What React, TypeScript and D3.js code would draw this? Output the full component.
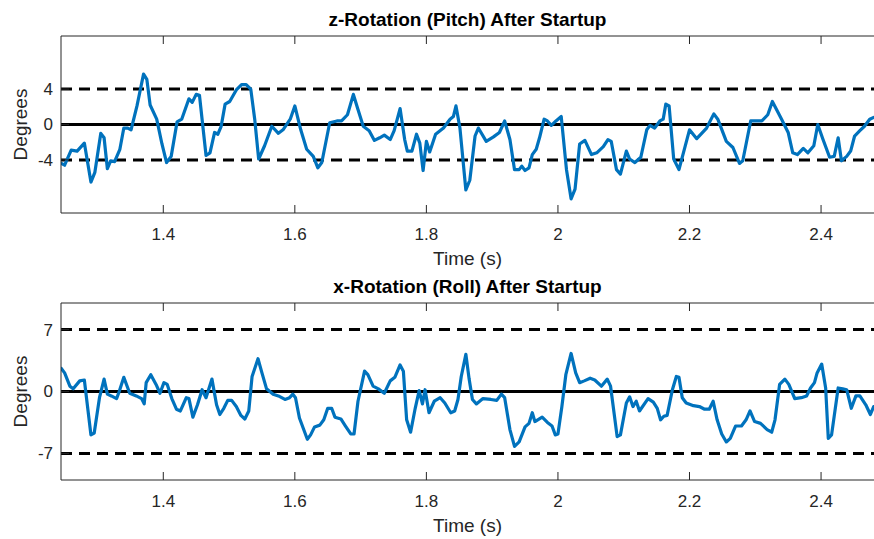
import React from "react";
import * as d3 from "d3";

// Pitch (z-rotation) samples after startup, in seconds and degrees
const pitchTime = [
  1.245, 1.25, 1.26, 1.269, 1.28, 1.29, 1.296, 1.305, 1.31, 1.315, 1.32, 1.326, 1.334, 1.34, 1.346, 1.351,
  1.36, 1.37, 1.375, 1.38, 1.39, 1.398, 1.405, 1.412, 1.421, 1.428, 1.439, 1.444, 1.45, 1.455, 1.465, 1.471,
  1.478, 1.483, 1.488, 1.494, 1.501, 1.511, 1.519, 1.526, 1.533, 1.539, 1.545, 1.554, 1.565, 1.575, 1.582,
  1.593, 1.6, 1.609, 1.618, 1.628, 1.635, 1.641, 1.653, 1.664, 1.671, 1.68, 1.689, 1.696, 1.704, 1.713,
  1.721, 1.729, 1.736, 1.745, 1.751, 1.76, 1.767, 1.771, 1.778, 1.785, 1.79, 1.795, 1.8, 1.805, 1.814,
  1.826, 1.836, 1.841, 1.845, 1.851, 1.86, 1.866, 1.874, 1.879, 1.891, 1.902, 1.911, 1.919, 1.927, 1.934,
  1.941, 1.945, 1.95, 1.956, 1.961, 1.967, 1.972, 1.979, 1.984, 1.99, 1.997, 2.005, 2.013, 2.02, 2.026,
  2.033, 2.041, 2.051, 2.059, 2.069, 2.076, 2.081, 2.089, 2.095, 2.104, 2.109, 2.117, 2.126, 2.135, 2.14,
  2.147, 2.155, 2.16, 2.164, 2.169, 2.176, 2.184, 2.2, 2.211, 2.226, 2.237, 2.243, 2.256, 2.266, 2.276,
  2.281, 2.293, 2.31, 2.319, 2.326, 2.34, 2.35, 2.357, 2.364, 2.373, 2.38, 2.389, 2.395, 2.403, 2.413,
  2.42, 2.426, 2.431, 2.439, 2.445, 2.451, 2.459, 2.466, 2.474, 2.48,
];
const pitchDeg = [
  -4.4, -4.6, -2.9, -3.0, -2.1, -6.5, -5.4, -1.0, -1.5, -5.0, -4.1, -4.2, -2.8, -0.4, -0.4, -0.6,
  2.1, 5.7, 5.1, 2.2, 0.6, -2.2, -4.3, -3.6, 0.3, 0.6, 2.9, 2.5, 3.4, 3.3, -3.5, -3.2,
  -0.9, -1.1, -0.2, 2.3, 2.6, 3.9, 4.5, 4.5, 4.0, 0.6, -3.9, -2.4, -0.2, -1.0, -0.6,
  0.6, 2.1, -0.6, -2.8, -3.6, -4.9, -4.3, 0.2, 0.4, 0.4, 1.1, 3.4, 1.7, -0.2, -0.7,
  -1.8, -1.5, -1.2, -1.7, -0.7, 1.8, -1.7, -3.0, -3.0, -1.1, -2.1, -5.2, -1.9, -3.1, -1.1,
  -0.4, 0.6, 0.9, 2.1, -0.4, -7.4, -6.3, -1.3, -0.4, -1.9, -1.4, -0.9, 0.4, -1.7, -5.1,
  -5.1, -4.7, -5.2, -4.9, -3.4, -2.8, -1.5, 0.6, 0.4, -0.1, 0.4, 0.9, -5.1, -8.4, -7.3,
  -2.2, -1.8, -3.4, -3.2, -2.5, -1.7, -1.9, -5.1, -5.6, -3.0, -3.9, -4.3, -3.7, -0.6, -0.1,
  -0.4, 0.4, 0.6, 2.3, 2.1, -3.9, -5.1, -0.6, -1.6, -0.4, 1.2, 0.6, -1.9, -2.6, -4.4,
  -4.1, 0.4, 0.4, 1.1, 2.6, 0.6, -0.9, -3.2, -3.4, -2.7, -3.2, -2.4, 0.0, -1.7, -3.7,
  -3.6, -1.5, -4.1, -3.6, -3.0, -1.3, -0.7, -0.2, 0.6, 0.8,
];

// Roll (x-rotation) samples after startup, in seconds and degrees
const rollTime = [
  1.245, 1.25, 1.258, 1.263, 1.273, 1.28, 1.29, 1.295, 1.303, 1.31, 1.315, 1.321, 1.329, 1.333, 1.34, 1.349,
  1.359, 1.367, 1.371, 1.374, 1.381, 1.389, 1.395, 1.401, 1.406, 1.413, 1.42, 1.426, 1.435, 1.439, 1.445,
  1.452, 1.459, 1.465, 1.474, 1.481, 1.486, 1.492, 1.498, 1.504, 1.511, 1.518, 1.524, 1.53, 1.535, 1.544,
  1.55, 1.557, 1.567, 1.575, 1.585, 1.592, 1.597, 1.601, 1.607, 1.619, 1.624, 1.63, 1.638, 1.644, 1.65,
  1.656, 1.661, 1.67, 1.677, 1.685, 1.69, 1.696, 1.706, 1.711, 1.719, 1.727, 1.736, 1.745, 1.752, 1.76,
  1.765, 1.77, 1.776, 1.783, 1.789, 1.794, 1.798, 1.804, 1.812, 1.821, 1.828, 1.837, 1.843, 1.848, 1.853,
  1.86, 1.865, 1.87, 1.876, 1.886, 1.898, 1.907, 1.914, 1.919, 1.927, 1.934, 1.941, 1.95, 1.956, 1.961,
  1.965, 1.976, 1.984, 1.991, 1.996, 2.0, 2.006, 2.012, 2.02, 2.027, 2.033, 2.04, 2.049, 2.056, 2.066,
  2.075, 2.08, 2.09, 2.095, 2.104, 2.109, 2.114, 2.119, 2.124, 2.137, 2.145, 2.151, 2.156, 2.161, 2.166,
  2.174, 2.18, 2.184, 2.189, 2.195, 2.206, 2.215, 2.223, 2.23, 2.236, 2.242, 2.249, 2.256, 2.262, 2.27,
  2.279, 2.286, 2.292, 2.299, 2.308, 2.318, 2.325, 2.33, 2.337, 2.345, 2.351, 2.36, 2.37, 2.378, 2.384,
  2.39, 2.394, 2.401, 2.407, 2.411, 2.416, 2.426, 2.433, 2.439, 2.446, 2.453, 2.459, 2.468, 2.475, 2.48,
];
const rollDeg = [
  2.6, 2.1, 0.6, 0.3, 1.2, 1.3, -4.9, -4.7, -0.7, 1.4, -0.3, -0.5, -0.8, 0.0, 1.6, -0.2,
  -0.5, -0.8, -1.4, 1.0, 1.9, 0.8, -0.2, 1.0, 0.8, -0.8, -2.0, -2.2, -0.7, -0.8, -2.9,
  -1.5, 0.2, -0.7, 1.4, -1.5, -2.6, -1.9, -1.0, -1.0, -1.7, -2.7, -3.1, -2.2, 1.7, 3.7,
  2.1, 0.3, -0.3, -0.5, -0.9, -0.7, -0.3, -0.7, -3.0, -5.4, -4.9, -4.0, -3.8, -3.2, -1.9,
  -1.9, -2.9, -3.1, -3.9, -4.8, -4.8, -1.1, 2.3, 1.9, 0.6, 0.3, -0.2, 1.2, 1.6, 3.0,
  2.3, -3.2, -4.6, -1.9, 0.1, -1.4, 0.2, -2.4, -1.1, -0.7, -1.3, -2.4, -2.2, -0.9, 1.7,
  4.2, 1.4, -0.9, -1.4, -0.8, -0.9, -1.0, -0.3, -0.7, -4.3, -6.2, -5.7, -4.0, -3.6, -2.4,
  -3.4, -2.9, -3.5, -3.9, -4.9, -4.8, -1.7, 1.9, 4.3, 2.1, 1.0, 1.2, 1.5, 1.3, 0.6,
  1.4, 0.6, -5.1, -4.9, -1.3, -0.6, -1.7, -1.1, -2.2, -0.8, -1.2, -1.9, -3.2, -2.8, -2.7,
  0.2, 1.7, 1.6, -0.7, -1.3, -1.6, -1.7, -2.0, -2.0, -1.1, -3.2, -4.8, -5.7, -5.3, -3.9,
  -3.9, -3.2, -2.2, -3.4, -3.6, -4.3, -4.6, -3.2, 0.8, 1.4, 0.8, -0.8, -0.7, -0.5, 0.4,
  1.0, 2.1, 3.1, 0.4, -5.3, -4.9, 0.4, 0.3, 0.2, -1.9, -0.5, -0.5, -1.5, -2.6, -1.7,
];

const timeTicks = [1.4, 1.6, 1.8, 2.0, 2.2, 2.4];
const timeRange = [1.2445, 2.4805];
const degRange = [-10, 10];
const pitchTicks = [-4, 0, 4];
const rollTicks = [-7, 0, 7];
const pitchLimit = 4;
const rollLimit = 7;

const W = 874;
const H = 539;
const FONT = "'Liberation Sans', Arial, Helvetica, sans-serif";
const AXIS = "#262626";
const BLUE = "#0072BD";

type PanelProps = {
  id: string;
  top: number;
  bottom: number;
  title: string;
  times: number[];
  values: number[];
  yTicks: number[];
  limit: number;
};

const left = 61;
const right = 874;

function Panel({ id, top, bottom, title, times, values, yTicks, limit }: PanelProps) {
  const x = d3.scaleLinear().domain(timeRange).range([left, right]);
  const y = d3.scaleLinear().domain(degRange).range([bottom, top]);
  const pts = times.map((t, i) => [t, values[i]] as [number, number]);
  const line = d3
    .line<[number, number]>()
    .x((d) => x(d[0]))
    .y((d) => y(d[1]));
  const clipId = `clip-${id}`;
  const tickLen = 8;
  const midY = (top + bottom) / 2;

  return (
    <g>
      <defs>
        <clipPath id={clipId}>
          <rect x={left} y={top} width={right - left} height={bottom - top} />
        </clipPath>
      </defs>
      <rect x={left} y={top} width={right - left} height={bottom - top} fill="#ffffff" />

      {/* reference lines: zero and ± limit */}
      <g clipPath={`url(#${clipId})`}>
        <line x1={left} x2={right} y1={y(0)} y2={y(0)} stroke="#000" strokeWidth={3} />
        {[limit, -limit].map((v) => (
          <line
            key={v}
            x1={left}
            x2={right}
            y1={y(v)}
            y2={y(v)}
            stroke="#000"
            strokeWidth={3}
            strokeDasharray="11 7"
          />
        ))}
        <path
          d={line(pts) || ""}
          fill="none"
          stroke={BLUE}
          strokeWidth={3.2}
          strokeLinejoin="round"
          strokeLinecap="round"
        />
      </g>

      {/* axes box */}
      <line x1={left} x2={right} y1={top} y2={top} stroke={AXIS} strokeWidth={1} />
      <line x1={left} x2={right} y1={bottom} y2={bottom} stroke={AXIS} strokeWidth={1} />
      <line x1={left} x2={left} y1={top} y2={bottom} stroke={AXIS} strokeWidth={1} />

      {/* x ticks */}
      {timeTicks.map((t) => (
        <g key={t}>
          <line x1={x(t)} x2={x(t)} y1={bottom} y2={bottom - tickLen} stroke={AXIS} strokeWidth={1} />
          <line x1={x(t)} x2={x(t)} y1={top} y2={top + tickLen} stroke={AXIS} strokeWidth={1} />
          <text
            x={x(t)}
            y={bottom + 27}
            textAnchor="middle"
            fontSize={17}
            fontFamily={FONT}
            fill={AXIS}
          >
            {d3.format("~g")(t)}
          </text>
        </g>
      ))}

      {/* y ticks */}
      {yTicks.map((v) => (
        <g key={v}>
          <line x1={left} x2={left + tickLen} y1={y(v)} y2={y(v)} stroke={AXIS} strokeWidth={1} />
          <text
            x={left - 8}
            y={y(v)}
            dy="0.35em"
            textAnchor="end"
            fontSize={17}
            fontFamily={FONT}
            fill={AXIS}
          >
            {v < 0 ? `-${Math.abs(v)}` : `${v}`}
          </text>
        </g>
      ))}

      <text
        x={(left + right) / 2}
        y={top - 10}
        textAnchor="middle"
        fontSize={19}
        fontWeight="bold"
        fontFamily={FONT}
        fill="#000"
      >
        {title}
      </text>
      <text
        x={(left + right) / 2}
        y={bottom + 52}
        textAnchor="middle"
        fontSize={19}
        fontFamily={FONT}
        fill={AXIS}
      >
        Time (s)
      </text>
      <text
        transform={`translate(27, ${midY}) rotate(-90)`}
        textAnchor="middle"
        fontSize={19}
        fontFamily={FONT}
        fill={AXIS}
      >
        Degrees
      </text>
    </g>
  );
}

export default function App() {
  return (
    <svg
      width={W}
      height={H}
      viewBox={`0 0 ${W} ${H}`}
      style={{ position: "absolute", left: 0, top: 0, background: "#fff" }}
    >
      <rect x={0} y={0} width={W} height={H} fill="#fff" />
      <Panel
        id="pitch"
        top={36}
        bottom={213}
        title="z-Rotation (Pitch) After Startup"
        times={pitchTime}
        values={pitchDeg}
        yTicks={pitchTicks}
        limit={pitchLimit}
      />
      <Panel
        id="roll"
        top={303}
        bottom={480}
        title="x-Rotation (Roll) After Startup"
        times={rollTime}
        values={rollDeg}
        yTicks={rollTicks}
        limit={rollLimit}
      />
    </svg>
  );
}
